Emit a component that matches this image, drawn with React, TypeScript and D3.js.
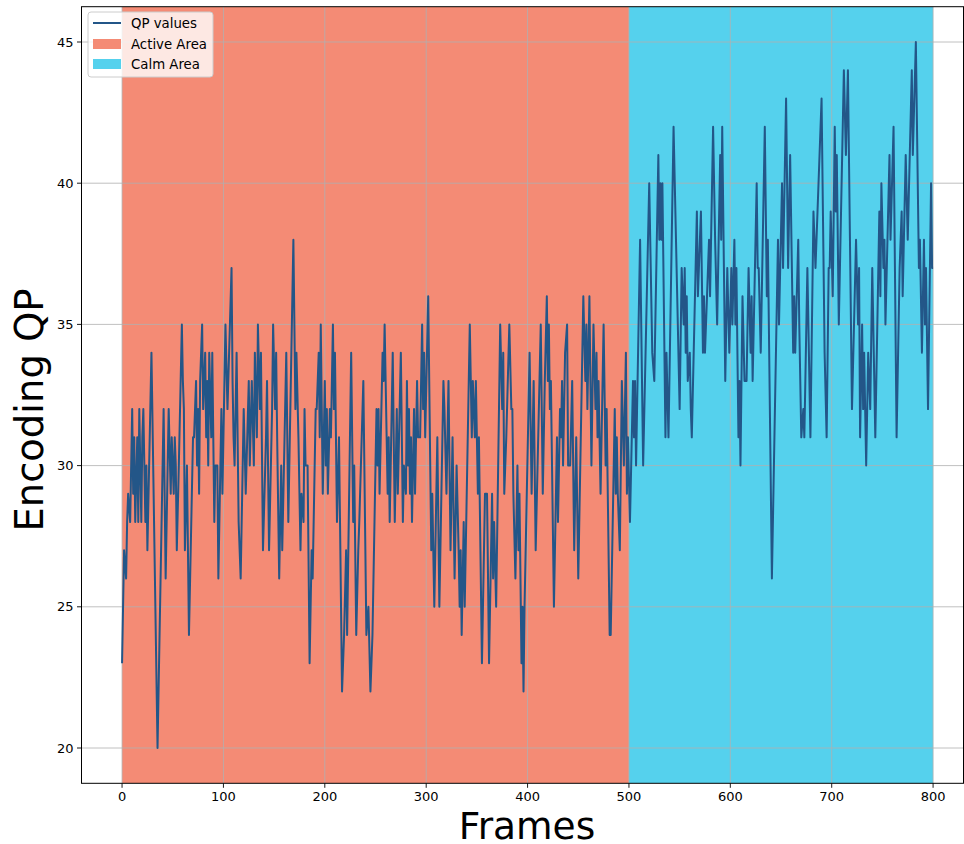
import React, { useEffect, useRef } from "react";
import * as d3 from "d3";

// Observed vertices of the QP trace: frame index and QP value
const frames: number[] = [
  0, 2, 4, 5, 6, 8, 10, 11, 12, 13, 15, 16, 17, 19, 20, 21, 23, 24, 25, 29,
  35, 41, 43, 46, 48, 49, 51, 52, 53, 54, 56, 59, 60, 61, 62, 64, 66, 70, 71, 73,
  74, 75, 76, 77, 79, 80, 82, 83, 84, 85, 86, 88, 89, 91, 92, 94, 95, 98, 99, 102,
  104, 108, 109, 110, 111, 113, 115, 117, 120, 122, 125, 126, 128, 130, 131, 133, 134, 136, 137, 139,
  142, 143, 145, 148, 149, 151, 152, 153, 155, 157, 158, 162, 164, 169, 171, 172, 174, 176, 177, 179,
  180, 181, 183, 185, 187, 188, 191, 192, 194, 195, 196, 198, 200, 201, 202, 203, 205, 206, 207, 208,
  209, 210, 212, 214, 217, 219, 221, 222, 226, 228, 229, 231, 233, 234, 238, 241, 243, 245, 247, 251,
  252, 253, 254, 257, 258, 259, 262, 263, 264, 267, 269, 271, 272, 275, 277, 278, 280, 281, 282, 283,
  284, 285, 286, 288, 289, 291, 292, 294, 296, 297, 298, 299, 302, 305, 306, 308, 311, 313, 317, 318,
  320, 322, 324, 326, 328, 330, 332, 333, 334, 335, 337, 338, 343, 345, 346, 348, 349, 350, 351, 352,
  355, 358, 360, 362, 365, 366, 367, 369, 373, 375, 376, 377, 379, 382, 384, 385, 386, 388, 390, 391,
  392, 394, 395, 396, 397, 402, 404, 406, 408, 413, 415, 417, 419, 420, 421, 422, 423, 426, 429, 430,
  432, 433, 434, 435, 437, 439, 440, 442, 444, 446, 448, 450, 455, 457, 458, 459, 461, 463, 465, 467,
  468, 469, 470, 472, 475, 477, 478, 481, 482, 486, 487, 488, 489, 491, 493, 495, 497, 498, 499, 501,
  504, 505, 506, 507, 511, 514, 520, 522, 523, 525, 529, 530, 531, 532, 533, 536, 537, 539, 544, 550,
  552, 554, 555, 556, 557, 558, 560, 561, 562, 567, 568, 571, 573, 574, 575, 577, 579, 580, 583, 585,
  587, 590, 591, 592, 595, 597, 599, 601, 602, 604, 605, 606, 608, 609, 610, 612, 614, 616, 617, 618,
  620, 621, 622, 626, 627, 628, 630, 634, 636, 637, 641, 647, 648, 651, 652, 655, 657, 659, 662, 663,
  664, 667, 668, 670, 672, 673, 676, 679, 682, 684, 686, 690, 693, 695, 697, 698, 699, 701, 703, 704,
  705, 707, 712, 714, 716, 720, 722, 724, 726, 727, 728, 730, 731, 732, 734, 736, 738, 740, 743, 747,
  748, 749, 751, 752, 753, 757, 758, 761, 764, 767, 769, 770, 773, 775, 779, 780, 783, 786, 787, 789,
  791, 792, 793, 795, 798, 799, 800,
];

const qpValues: number[] = [
  23, 27, 26, 28, 29, 28, 32, 29, 31, 28, 31, 28, 32, 28, 31, 32, 28, 30, 27, 34,
  20, 32, 26, 32, 29, 31, 29, 31, 30, 27, 30, 35, 33, 32, 27, 30, 24, 31, 31, 33,
  30, 32, 29, 33, 35, 32, 34, 31, 33, 30, 34, 31, 34, 28, 30, 30, 26, 32, 29, 35,
  32, 37, 33, 31, 30, 34, 28, 26, 32, 29, 33, 30, 33, 30, 34, 31, 35, 32, 34, 27,
  31, 33, 27, 32, 35, 32, 34, 31, 26, 30, 27, 34, 28, 38, 32, 34, 31, 27, 29, 28,
  32, 30, 30, 23, 27, 26, 32, 32, 34, 31, 35, 29, 33, 30, 32, 29, 32, 31, 33, 35,
  32, 34, 28, 31, 22, 24, 27, 24, 34, 28, 30, 24, 27, 28, 33, 24, 25, 22, 24, 32,
  30, 32, 29, 34, 33, 35, 29, 31, 28, 34, 28, 32, 29, 34, 28, 30, 29, 33, 30, 32,
  29, 31, 28, 32, 29, 33, 31, 31, 35, 32, 34, 31, 36, 27, 29, 25, 31, 25, 33, 32,
  29, 33, 27, 31, 26, 30, 27, 25, 27, 24, 28, 25, 35, 31, 33, 31, 33, 31, 29, 31,
  23, 29, 29, 23, 29, 26, 28, 25, 35, 32, 34, 29, 31, 35, 32, 32, 29, 26, 30, 27,
  29, 23, 25, 22, 25, 34, 29, 33, 27, 35, 29, 33, 36, 33, 35, 32, 33, 25, 31, 28,
  32, 31, 33, 30, 34, 35, 30, 30, 33, 27, 31, 26, 36, 33, 35, 32, 36, 30, 35, 32,
  34, 31, 33, 29, 35, 30, 32, 24, 24, 32, 29, 31, 29, 27, 33, 30, 34, 29, 31, 28,
  33, 31, 33, 30, 38, 30, 40, 36, 34, 33, 41, 38, 40, 38, 40, 31, 34, 31, 42, 32,
  37, 35, 37, 34, 36, 33, 34, 32, 31, 39, 36, 39, 34, 36, 34, 36, 38, 36, 42, 38,
  35, 41, 38, 42, 33, 37, 34, 37, 35, 38, 35, 37, 31, 33, 30, 36, 33, 33, 35, 37,
  34, 36, 33, 40, 37, 37, 34, 42, 36, 38, 26, 38, 35, 40, 37, 43, 37, 41, 34, 36,
  34, 38, 35, 31, 32, 31, 37, 31, 39, 37, 39, 43, 34, 31, 37, 37, 39, 36, 42, 39,
  41, 35, 44, 41, 44, 32, 35, 38, 35, 37, 31, 35, 32, 34, 30, 34, 32, 37, 31, 39,
  36, 40, 37, 38, 35, 41, 38, 42, 31, 37, 39, 36, 41, 38, 44, 41, 45, 37, 38, 34,
  38, 35, 37, 32, 40, 37, 37,
];

const xTicks: number[] = [0, 100, 200, 300, 400, 500, 600, 700, 800];
const yTicks: number[] = [20, 25, 30, 35, 40, 45];
const spans = [
  { label: "Active Area", start: 0, end: 500, color: "#f48b75" },
  { label: "Calm Area", start: 500, end: 800, color: "#55d1ed" },
];
const lineLabel = "QP values";
const lineColor = "#235688";

export default function App() {
  const ref = useRef<SVGSVGElement | null>(null);

  useEffect(() => {
    const svg = d3.select(ref.current);
    svg.selectAll("*").remove();
    const W = 964, H = 844;
    const left = 81.5, right = 963.5, top = 6.7, bottom = 783.3;
    const x = d3.scaleLinear().domain([-40, 830]).range([left, right]);
    const y = d3.scaleLinear().domain([18.75, 46.25]).range([bottom, top]);
    const font = "DejaVu Sans, sans-serif";

    svg.append("rect").attr("width", W).attr("height", H).attr("fill", "#ffffff");

    const clipId = "plotclip";
    svg.append("defs").append("clipPath").attr("id", clipId)
      .append("rect").attr("x", left).attr("y", top).attr("width", right - left).attr("height", bottom - top);
    const plot = svg.append("g").attr("clip-path", `url(#${clipId})`);

    spans.forEach((s) => {
      plot.append("rect")
        .attr("x", x(s.start)).attr("y", top)
        .attr("width", x(s.end) - x(s.start)).attr("height", bottom - top)
        .attr("fill", s.color);
    });

    xTicks.forEach((t) => {
      plot.append("line").attr("x1", x(t)).attr("x2", x(t)).attr("y1", top).attr("y2", bottom)
        .attr("stroke", "#b0b0b0").attr("stroke-width", 0.8);
    });
    yTicks.forEach((t) => {
      plot.append("line").attr("x1", left).attr("x2", right).attr("y1", y(t)).attr("y2", y(t))
        .attr("stroke", "#b0b0b0").attr("stroke-width", 0.8);
    });

    const pts = frames.map((f, i) => [f, qpValues[i]] as [number, number]);
    const line = d3.line<[number, number]>().x((d) => x(d[0])).y((d) => y(d[1]));
    plot.append("path").datum(pts).attr("d", line).attr("fill", "none")
      .attr("stroke", lineColor).attr("stroke-width", 2).attr("stroke-linejoin", "round");

    svg.append("rect").attr("x", left).attr("y", top).attr("width", right - left).attr("height", bottom - top)
      .attr("fill", "none").attr("stroke", "#000").attr("stroke-width", 1);

    xTicks.forEach((t) => {
      svg.append("line").attr("x1", x(t)).attr("x2", x(t)).attr("y1", bottom).attr("y2", bottom + 4.5)
        .attr("stroke", "#000").attr("stroke-width", 0.9);
      svg.append("text").attr("x", x(t)).attr("y", bottom + 18).attr("text-anchor", "middle")
        .attr("font-family", font).attr("font-size", 13).attr("fill", "#000").text(String(t));
    });
    yTicks.forEach((t) => {
      svg.append("line").attr("x1", left - 4.5).attr("x2", left).attr("y1", y(t)).attr("y2", y(t))
        .attr("stroke", "#000").attr("stroke-width", 0.9);
      svg.append("text").attr("x", left - 8).attr("y", y(t)).attr("dy", "0.35em").attr("text-anchor", "end")
        .attr("font-family", font).attr("font-size", 13).attr("fill", "#000").text(String(t));
    });

    svg.append("text").attr("x", 527).attr("y", 839).attr("text-anchor", "middle")
      .attr("font-family", font).attr("font-size", 37.5).attr("fill", "#000").text("Frames");
    svg.append("text").attr("transform", `translate(43, 410) rotate(-90)`)
      .attr("text-anchor", "middle").attr("font-family", font).attr("font-size", 38.5).attr("fill", "#000")
      .text("Encoding QP");

    const lg = svg.append("g").attr("transform", "translate(88, 12)");
    lg.append("rect").attr("x", 0).attr("y", 0).attr("width", 125).attr("height", 65).attr("rx", 3)
      .attr("fill", "#ffffff").attr("fill-opacity", 0.8).attr("stroke", "#cccccc").attr("stroke-width", 1);
    lg.append("line").attr("x1", 5).attr("x2", 33).attr("y1", 11).attr("y2", 11)
      .attr("stroke", lineColor).attr("stroke-width", 2);
    lg.append("text").attr("x", 43).attr("y", 11).attr("dy", "0.35em").attr("font-family", font)
      .attr("font-size", 13.3).attr("fill", "#000").text(lineLabel);
    spans.forEach((s, i) => {
      const yy = 32 + i * 20;
      lg.append("rect").attr("x", 5).attr("y", yy - 5).attr("width", 28).attr("height", 10).attr("fill", s.color);
      lg.append("text").attr("x", 43).attr("y", yy).attr("dy", "0.35em").attr("font-family", font)
        .attr("font-size", 13.3).attr("fill", "#000").text(s.label);
    });
  }, []);

  return (
    <svg ref={ref} width={964} height={844} style={{ display: "block", position: "absolute", left: 0, top: 0 }} />
  );
}
